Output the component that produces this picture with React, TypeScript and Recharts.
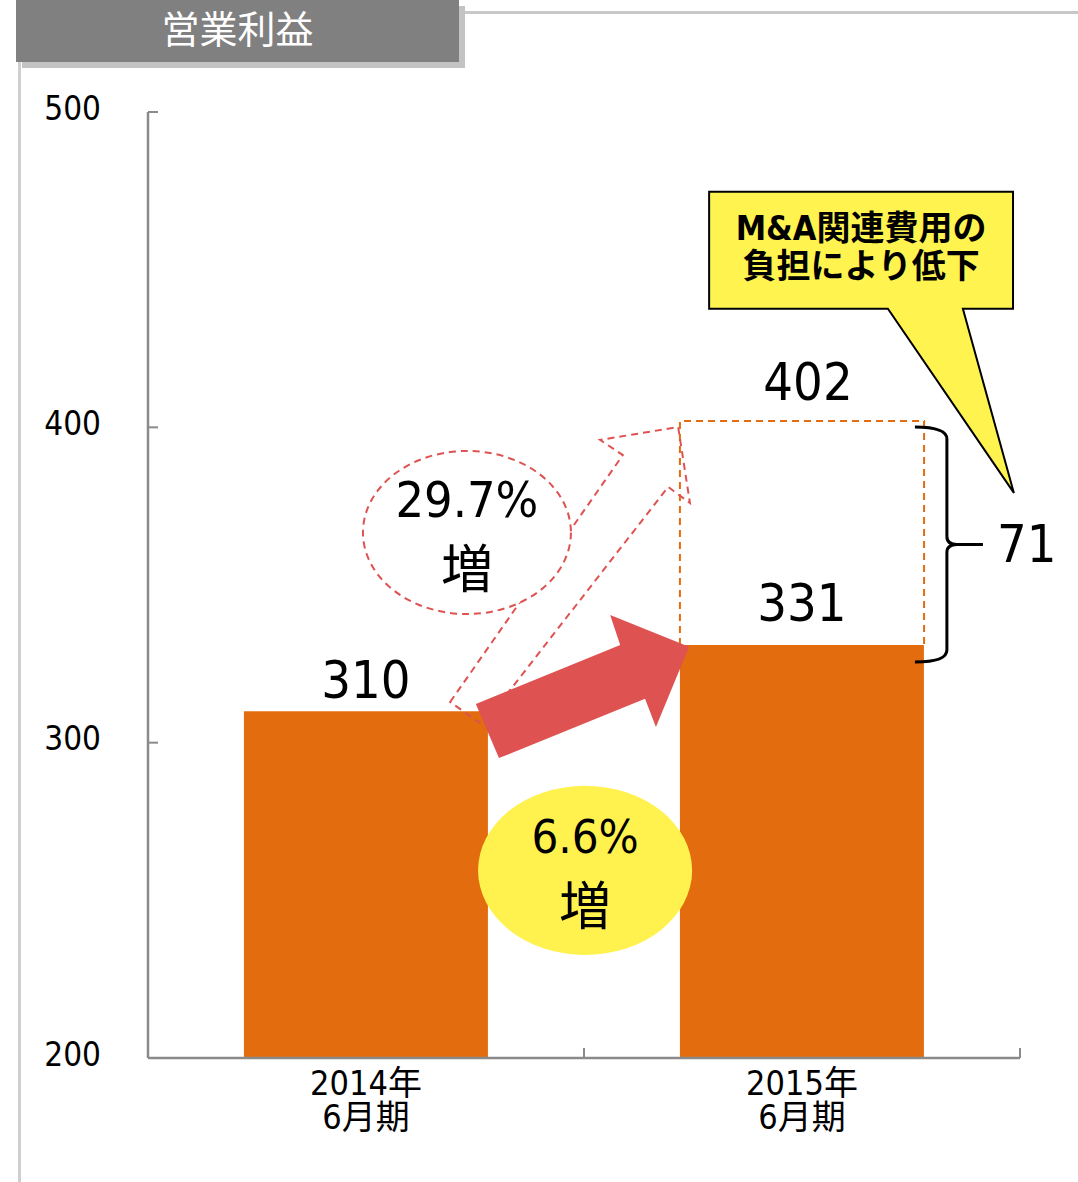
import React from 'react';
import { ComposedChart, Bar, XAxis, YAxis, ReferenceArea, LabelList } from 'recharts';

// values (operating profit, 百万円)
const periods = ['2014年', '2015年'];
const periodSub = ['6月期', '6月期'];
const operatingProfit = [310, 331];
const profitBeforeMA = 402; // 2015 profit without M&A costs
const maCost = 71;
const growthActual = '6.6%';
const growthBeforeMA = '29.7%';
const growthWord = '増';
const yTicks = [200, 300, 400, 500];
const calloutLines = ['M&A関連費用の', '負担により低下'];

// pos = centre of each period on the numeric helper axis
const data = periods.map((p, i) => ({ period: p, pos: i + 0.5, profit: operatingProfit[i] }));

// annotation geometry in chart units (x: 0..2 across the two periods, y: value)
type Pt = [number, number];
const SOLID_ARROW: Pt[] = [
  [0.752, 312.3], [1.083, 331.0], [1.06, 340.5], [1.241, 330.4],
  [1.165, 305.0], [1.14, 313.9], [0.805, 295.1],
];
const DASHED_ARROW: Pt[] = [
  [0.693, 312.9], [1.089, 391.2], [1.037, 396.0], [1.216, 400.1],
  [1.243, 376.0], [1.193, 381.1], [0.768, 305.6],
];
const CALLOUT: Pt[] = [
  [1.287, 474.7], [1.984, 474.7], [1.984, 437.6], [1.869, 437.6],
  [1.986, 379.2], [1.697, 437.6], [1.287, 437.6],
];
const DASHED_ELLIPSE: Pt[] = [[0.493, 340.8], [0.97, 392.5]];
const YELLOW_ELLIPSE: Pt[] = [[0.757, 232.7], [1.248, 286.3]];
const BRACKET: Pt[] = [[1.759, 325.6], [1.915, 400.1]];
const BAR_GAP = 0.22;

// axis ids: 0 = numeric helper axis (line + inward ticks), 1 = period labels
const NUM_AXIS = 0;
const CAT_AXIS = 1;

const ORANGE = '#E36C0E';
const RED = '#DE5252';
const YELLOW = '#FFF24F';
const AXIS = '#8a8a8a';
const NUM_FONT = "'DejaVu Sans Condensed', 'DejaVu Sans', 'Noto Sans CJK JP', sans-serif";
const BAR_LABEL_GAP = [13, 24];

type Box = { x1: number; x2: number; y1: number; y2: number };
const bboxOf = (pts: Pt[]): Box => ({
  x1: Math.min(...pts.map((p) => p[0])),
  x2: Math.max(...pts.map((p) => p[0])),
  y1: Math.min(...pts.map((p) => p[1])),
  y2: Math.max(...pts.map((p) => p[1])),
});

// map chart units to pixels using the rect recharts computed for the box
const mapper = (box: Box, p: any) => ({
  sx: (v: number) => p.x + ((v - box.x1) / (box.x2 - box.x1)) * p.width,
  sy: (v: number) => p.y + ((box.y2 - v) / (box.y2 - box.y1)) * p.height,
});

const polygonShape = (pts: Pt[], style: any) => {
  const box = bboxOf(pts);
  return (p: any) => {
    const { sx, sy } = mapper(box, p);
    return <polygon points={pts.map(([a, b]) => `${sx(a)},${sy(b)}`).join(' ')} {...style} />;
  };
};

const calloutShape = (p: any) => {
  const box = bboxOf(CALLOUT);
  const { sx, sy } = mapper(box, p);
  const cx = sx(CALLOUT[0][0] + (CALLOUT[1][0] - CALLOUT[0][0]) / 2);
  const top = sy(CALLOUT[0][1]);
  return (
    <g>
      <polygon
        points={CALLOUT.map(([a, b]) => `${sx(a)},${sy(b)}`).join(' ')}
        fill="#FFF44F"
        stroke="#000"
        strokeWidth={2}
      />
      {calloutLines.map((t, i) => (
        <text
          key={t}
          x={cx}
          y={top + 48 + i * 38}
          textAnchor="middle"
          fontSize={34}
          fontWeight="bold"
          fontFamily={NUM_FONT}
          fill="#000"
        >
          {t}
        </text>
      ))}
    </g>
  );
};

const ellipseShape = (style: any, lines: { text: string; dy: number; size: number }[]) => (p: any) => {
  const cx = p.x + p.width / 2;
  const cy = p.y + p.height / 2;
  return (
    <g>
      <ellipse cx={cx} cy={cy} rx={p.width / 2} ry={p.height / 2} {...style} />
      {lines.map((l) => (
        <text key={l.text} x={cx} y={cy + l.dy} textAnchor="middle" fontSize={l.size} fontFamily={NUM_FONT} fill="#000">
          {l.text}
        </text>
      ))}
    </g>
  );
};

const bracketShape = (p: any) => {
  const xl = p.x;
  const xv = p.x + p.width * 0.47;
  const tip = p.x + p.width;
  const top = p.y;
  const bottom = p.y + p.height;
  const mid = (top + bottom) / 2;
  const d =
    `M ${xl} ${top} Q ${xv} ${top} ${xv} ${top + 12} L ${xv} ${mid - 8} Q ${xv} ${mid} ${xv + 10} ${mid} L ${tip} ${mid}` +
    ` M ${xv + 10} ${mid} Q ${xv} ${mid} ${xv} ${mid + 8} L ${xv} ${bottom - 12} Q ${xv} ${bottom} ${xl} ${bottom}`;
  return (
    <g>
      <path d={d} fill="none" stroke="#000" strokeWidth={3} />
      <text x={tip + 14} y={mid + 18} fontSize={52} fontFamily={NUM_FONT} fill="#000">
        {maCost}
      </text>
    </g>
  );
};

// open-bottomed dashed box: the bottom edge sits on the bar top
const dashedRectShape = (p: any) => {
  const l = p.x;
  const r = p.x + p.width;
  const t = p.y;
  const b = p.y + p.height;
  return (
    <g>
      <path d={`M ${l} ${b} L ${l} ${t} L ${r} ${t} L ${r} ${b}`} fill="none" stroke={ORANGE} strokeWidth={2} strokeDasharray="7 5" />
      <text x={(l + r) / 2 + 6} y={t - 21} textAnchor="middle" fontSize={52} fontFamily={NUM_FONT} fill="#000">
        {profitBeforeMA}
      </text>
    </g>
  );
};

const boxProps = (pts: Pt[]) => bboxOf(pts);

const renderBarLabel = (props: any) => {
  const { x, y, width, value, index } = props;
  return (
    <text x={x + width / 2} y={y - BAR_LABEL_GAP[index]} textAnchor="middle" fontSize={52} fontFamily={NUM_FONT} fill="#000">
      {value}
    </text>
  );
};

const renderPeriodTick = (props: any) => {
  const { x, y, payload } = props;
  const i = periods.indexOf(payload.value);
  return (
    <text x={x} y={y} textAnchor="middle" fontSize={34} fontFamily={NUM_FONT} fill="#000">
      <tspan x={x} dy={36}>{payload.value}</tspan>
      <tspan x={x} dy={34}>{periodSub[i]}</tspan>
    </text>
  );
};

// the helper axis only shows its tick marks, no text
const noTickText = () => <g />;

export default function App() {
  return (
    <div style={{ position: 'absolute', left: 0, top: 0, width: 1078, height: 1182, background: '#fff' }}>
      {/* frame + title tab */}
      <div style={{ position: 'absolute', left: 18, top: 62, width: 3, height: 1120, background: '#cfcfcf' }} />
      <div style={{ position: 'absolute', left: 465, top: 11, width: 613, height: 3, background: '#c8c8c8' }} />
      <div
        style={{
          position: 'absolute',
          left: 16,
          top: 0,
          width: 443,
          height: 62,
          background: '#808080',
          boxShadow: '6px 6px 0 #c3c3c3',
          color: '#fff',
          fontSize: 38,
          lineHeight: '54px',
          textAlign: 'center',
          fontFamily: "'Noto Sans CJK JP', sans-serif",
        }}
      >
        営業利益
      </div>

      <ComposedChart
        width={1078}
        height={1182}
        data={data}
        margin={{ top: 112, right: 58, bottom: 44, left: 0 }}
        barCategoryGap={`${BAR_GAP * 100}%`}
        style={{ position: 'absolute', left: 0, top: 0 }}
      >
        <XAxis
          xAxisId={NUM_AXIS}
          dataKey="pos"
          type="number"
          domain={[0, 2]}
          ticks={[0, 1, 2]}
          interval={0}
          height={1}
          tick={noTickText}
          tickSize={-10}
          axisLine={{ stroke: AXIS, strokeWidth: 2.5 }}
          tickLine={{ stroke: AXIS, strokeWidth: 2 }}
          allowDataOverflow
        />
        <XAxis
          xAxisId={CAT_AXIS}
          dataKey="period"
          height={79}
          axisLine={false}
          tickLine={false}
          tickSize={0}
          tickMargin={0}
          interval={0}
          tick={renderPeriodTick}
        />
        <YAxis
          type="number"
          domain={[200, 500]}
          ticks={yTicks}
          interval={0}
          width={148}
          allowDataOverflow
          axisLine={{ stroke: AXIS, strokeWidth: 2.5 }}
          tickLine={{ stroke: AXIS, strokeWidth: 2 }}
          tickSize={-10}
          tickMargin={57}
          tick={{ fill: '#000', fontSize: 33, fontFamily: NUM_FONT, dy: -4 }}
        />
        <Bar xAxisId={CAT_AXIS} dataKey="profit" fill={ORANGE} isAnimationActive={false}>
          <LabelList dataKey="profit" content={renderBarLabel} />
        </Bar>

        <ReferenceArea
          xAxisId={NUM_AXIS}
          x1={1 + BAR_GAP}
          x2={2 - BAR_GAP}
          y1={operatingProfit[1]}
          y2={profitBeforeMA}
          shape={dashedRectShape}
          zIndex={600}
        />
        <ReferenceArea
          xAxisId={NUM_AXIS}
          {...boxProps(DASHED_ARROW)}
          shape={polygonShape(DASHED_ARROW, { fill: 'none', stroke: RED, strokeWidth: 2, strokeDasharray: '7 5' })}
          zIndex={600}
        />
        <ReferenceArea
          xAxisId={NUM_AXIS}
          {...boxProps(DASHED_ELLIPSE)}
          shape={ellipseShape({ fill: '#fff', stroke: RED, strokeWidth: 2, strokeDasharray: '7 5' }, [
            { text: growthBeforeMA, dy: -15, size: 50 },
            { text: growthWord, dy: 56, size: 52 },
          ])}
          zIndex={600}
        />
        <ReferenceArea
          xAxisId={NUM_AXIS}
          {...boxProps(SOLID_ARROW)}
          shape={polygonShape(SOLID_ARROW, { fill: RED, stroke: 'none' })}
          zIndex={600}
        />
        <ReferenceArea
          xAxisId={NUM_AXIS}
          {...boxProps(YELLOW_ELLIPSE)}
          shape={ellipseShape({ fill: YELLOW, stroke: 'none' }, [
            { text: growthActual, dy: -17, size: 47 },
            { text: growthWord, dy: 55, size: 52 },
          ])}
          zIndex={600}
        />
        <ReferenceArea xAxisId={NUM_AXIS} {...boxProps(CALLOUT)} shape={calloutShape} zIndex={600} />
        <ReferenceArea xAxisId={NUM_AXIS} {...boxProps(BRACKET)} shape={bracketShape} zIndex={600} />
      </ComposedChart>
    </div>
  );
}
